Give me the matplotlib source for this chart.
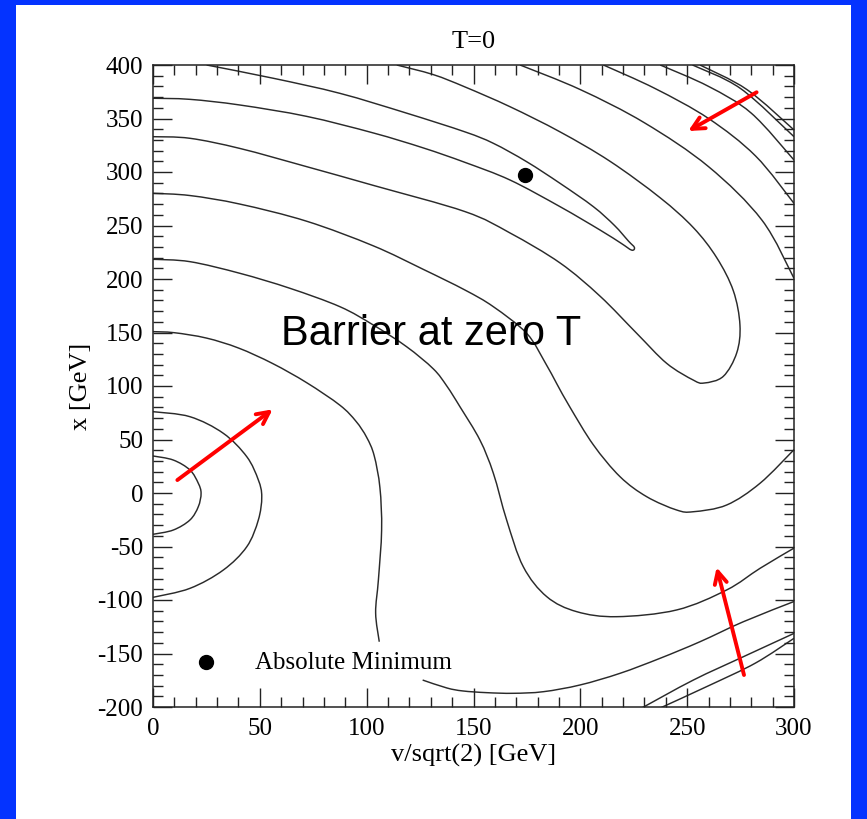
import matplotlib
matplotlib.use("Agg")
import numpy as np
import matplotlib.pyplot as plt
from matplotlib.patches import Rectangle, PathPatch
from matplotlib.path import Path
from matplotlib.ticker import MultipleLocator

plt.rcParams["axes.unicode_minus"] = False

# ---- equipotential lines of V(v, x) at T=0, traced as (v/sqrt2, x) in GeV ----
a_v = [0.0, 9.5, 17.3, 21.2, 22.5, 21.2, 17.3, 9.5, 0.0]
a_x = [34.6, 30.8, 21.5, 9.1, -0.3, -12.8, -25.2, -34.6, -38.6]

b_v = [0.0, 17.3, 32.9, 43.9, 49.3, 50.9, 49.3, 43.9, 32.9, 17.3, 0.0]
b_x = [76.0, 71.3, 55.8, 33.9, 12.2, -3.5, -25.2, -50.2, -72.0, -89.1, -97.5]

c1_v = [0.0, 10.0, 25.0, 40.0, 56.0, 72.0, 87.5, 95.0, 100.0, 103.5, 106.2, 107.0, 105.5, 104.2, 105.9]
c1_x = [150.8, 149.8, 144.8, 135.5, 121.0, 103.0, 82.0, 67.0, 52.0, 35.0, 5.0, -34.6, -81.0, -112.0, -139.0]

c2_v = [126.2, 137.5, 145.0, 156.2, 168.6, 182.7, 199.9, 218.6, 237.3, 256.0, 276.3, 300.0]
c2_x = [-174.8, -182.2, -185.0, -186.6, -187.2, -185.7, -179.4, -168.5, -154.5, -139.0, -120.3, -101.4]

d_v = [0.0, 17.3, 40.7, 64.1, 87.5, 103.1, 118.7, 131.2, 137.5, 143.7, 153.0, 159.3, 165.5,
       173.3, 184.3, 198.3, 217.0, 245.1, 268.5, 284.1, 300.0]
d_x = [218.4, 216.2, 205.3, 191.3, 174.1, 157.0, 136.7, 116.0, 100.0, 80.5, 49.5, 18.4, -25.2,
       -68.9, -96.9, -110.9, -115.6, -109.3, -90.6, -70.4, -51.5]

e_v = [0.0, 17.3, 40.7, 71.9, 103.1, 126.5, 146.0, 159.3, 174.9, 183.5, 189.0, 195.2, 206.1,
       218.6, 231.1, 245.1, 252.9, 268.5, 284.1, 300.0]
e_x = [280.1, 278.0, 270.0, 254.0, 231.0, 209.0, 189.7, 174.1, 149.2, 122.0, 102.0, 80.0, 45.0,
       15.2, -3.5, -15.9, -17.5, -11.2, 9.1, 40.5]

# outer valley: enters on the left edge, turns near v=258 and leaves through the top edge
f_v = [0.0, 17.3, 40.7, 71.9, 103.1, 146.0, 167.1, 190.5, 209.2, 226.4, 240.4, 252.9, 258.0,
       266.9, 273.2, 274.7, 271.6, 263.8, 252.9, 237.3, 213.9, 190.5, 167.1, 146.0, 131.2, 114.1]
f_x = [333.0, 331.5, 322.0, 305.0, 287.5, 263.0, 243.0, 215.0, 184.0, 149.2, 121.2, 105.5, 102.8,
       109.0, 131.0, 157.0, 189.0, 220.0, 248.0, 276.0, 310.0, 337.5, 361.0, 379.5, 391.0, 400.0]

# inner valley around the second minimum
g_v = [0.0, 17.3, 40.7, 71.9, 103.1, 126.5, 146.0, 167.1, 190.5, 209.2, 219.0, 224.0, 225.3,
       222.5, 216.0, 206.1, 190.5, 174.9, 159.3, 146.0, 118.7, 87.5, 56.3, 25.1]
g_x = [368.9, 367.9, 362.6, 352.0, 336.5, 322.5, 309.0, 292.5, 267.6, 245.8, 233.5, 227.0, 229.5,
       235.5, 250.0, 267.6, 289.4, 309.6, 326.8, 337.5, 355.0, 373.5, 387.6, 400.0]

# steep walls in the upper-right corner
h1_v = [171.8, 200.0, 230.0, 260.0, 285.0, 300.0]
h1_x = [400.0, 377.0, 346.0, 305.0, 255.0, 200.6]
h2_v = [210.8, 235.0, 260.0, 282.0, 300.0]
h2_x = [400.0, 378.0, 350.0, 315.0, 270.7]
h3_v = [237.4, 260.0, 280.0, 300.0]
h3_x = [400.0, 380.0, 355.0, 311.2]
h4_v = [252.5, 275.0, 300.0]
h4_x = [400.0, 378.0, 333.0]
h5_v = [256.0, 278.0, 300.0]
h5_x = [400.0, 377.0, 339.3]

# steep walls in the lower-right corner
l1_v = [228.7, 252.9, 276.3, 300.0]
l1_x = [-201.0, -174.8, -153.0, -131.2]
l2_v = [237.3, 260.7, 282.0, 300.0]
l2_x = [-201.0, -179.5, -158.9, -135.8]

contours = [(a_v, a_x), (b_v, b_x), (c1_v, c1_x), (c2_v, c2_x), (d_v, d_x), (e_v, e_x),
            (f_v, f_x), (g_v, g_x), (h1_v, h1_x), (h2_v, h2_x), (h3_v, h3_x), (h4_v, h4_x),
            (h5_v, h5_x), (l1_v, l1_x), (l2_v, l2_x)]

# minima
min_v, min_x = 174.0, 297.0
legend_dot_v, legend_dot_x = 25.0, -158.0

# red arrows: (tail_v, tail_x, head_v, head_x)
arrows = [(282.5, 374.5, 250.5, 338.3),
          (11.4, 12.1, 56.0, 78.2),
          (276.6, -170.1, 263.8, -69.5)]

serif = "Liberation Serif"


def smooth_path(xs, ys):
    """Cubic Bezier path passing through every given vertex (Catmull-Rom tangents)."""
    p = np.column_stack([xs, ys]).astype(float)
    ext = np.vstack([p[0], p, p[-1]])
    verts = [p[0]]
    codes = [Path.MOVETO]
    for i in range(len(p) - 1):
        p0, p1, p2, p3 = ext[i], ext[i + 1], ext[i + 2], ext[i + 3]
        verts += [p1 + (p2 - p0) / 6.0, p2 - (p3 - p1) / 6.0, p2]
        codes += [Path.CURVE4] * 3
    return Path(verts, codes)


fig = plt.figure(figsize=(8.67, 8.19), dpi=100)
fig.patch.set_facecolor("#0433FF")
fig.patches.append(Rectangle((15.7 / 867, 0), (851 - 15.7) / 867, 1 - 5 / 819,
                             transform=fig.transFigure, facecolor="white",
                             edgecolor="none", zorder=-5))

ax = fig.add_axes([153 / 867, 1 - 707 / 819, 641 / 867, 642 / 819])
ax.set_facecolor("white")

for cv, cx in contours:
    ax.add_patch(PathPatch(smooth_path(cv, cx), facecolor="none",
                           edgecolor="#2a2a2a", lw=1.05))

ax.plot(min_v, min_x, "o", color="black", ms=10)
ax.plot(legend_dot_v, legend_dot_x, "o", color="black", ms=10)
ax.text(47.7, -164.5, "Absolute Minimum", family=serif, fontsize=18, va="baseline")

for tv, tx, hv, hx in arrows:
    ax.annotate("", xy=(hv, hx), xytext=(tv, tx),
                arrowprops=dict(arrowstyle="->", color="red", lw=2.8,
                                mutation_scale=22, shrinkA=0, shrinkB=0))

ax.text(59.9, 138.3, "Barrier at zero T", family="Liberation Sans", fontsize=30,
        va="baseline", color="black")

ax.set_xlim(0, 300)
ax.set_ylim(-200, 400)
ax.xaxis.set_major_locator(MultipleLocator(50))
ax.xaxis.set_minor_locator(MultipleLocator(10))
ax.yaxis.set_major_locator(MultipleLocator(50))
ax.yaxis.set_minor_locator(MultipleLocator(10))
ax.tick_params(which="both", direction="in", top=True, right=True, width=1.0, color="#222222")
ax.tick_params(which="major", length=13.5)
ax.tick_params(which="minor", length=7)
ax.tick_params(axis="x", which="major", pad=8)
ax.tick_params(axis="y", which="major", pad=7)
for lab in ax.get_xticklabels() + ax.get_yticklabels():
    lab.set_family(serif)
    lab.set_fontsize(18)
for sp in ax.spines.values():
    sp.set_linewidth(1.1)
    sp.set_color("#222222")

ax.set_xlabel("v/sqrt(2) [GeV]", family=serif, fontsize=19, labelpad=3)
ax.set_ylabel("x [GeV]", family=serif, fontsize=19, labelpad=4)
ax.set_title("T=0", family=serif, fontsize=19, pad=12)

fig.savefig("out.png", dpi=100)
